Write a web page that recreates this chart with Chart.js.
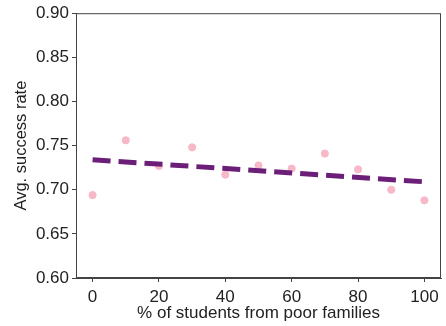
<!DOCTYPE html>
<html>
<head>
<meta charset="utf-8">
<script src="https://cdn.jsdelivr.net/npm/chart.js@4.4.0/dist/chart.umd.min.js"></script>
<style>
html,body{margin:0;padding:0;background:#fff;}
#wrap{width:446px;height:326px;}
</style>
</head>
<body>
<div id="wrap"><canvas id="c" width="446" height="326"></canvas></div>
<script>
const pctPoor = [0, 10, 20, 30, 40, 50, 60, 70, 80, 90, 100];
const successRate = [0.694, 0.756, 0.727, 0.748, 0.717, 0.7275, 0.724, 0.741, 0.723, 0.700, 0.688];
const trendX = [0, 100];
const trendY = [0.734, 0.709];
const xTicks = [0, 20, 40, 60, 80, 100];
const yTicks = [0.60, 0.65, 0.70, 0.75, 0.80, 0.85, 0.90];

const FONT = 'Liberation Sans, Arial, Helvetica, sans-serif';

const frame = {
  id: 'frame',
  afterDatasetsDraw(chart) {
    const a = chart.chartArea, ctx = chart.ctx;
    ctx.save();
    ctx.strokeStyle = '#444';
    ctx.lineWidth = 1;
    ctx.strokeRect(a.left + 0.5, a.top + 0.5, a.right - a.left - 1, a.bottom - a.top - 1);
    ctx.restore();
  }
};

new Chart(document.getElementById('c'), {
  type: 'scatter',
  data: {
    datasets: [
      {
        data: pctPoor.map((x, i) => ({x, y: successRate[i]})),
        backgroundColor: '#f7b8c8',
        borderColor: '#f7b8c8',
        pointRadius: 3.6,
        order: 2
      },
      {
        type: 'line',
        data: trendX.map((x, i) => ({x, y: trendY[i]})),
        borderColor: '#6c1f78',
        borderWidth: 5,
        borderDash: [18, 8],
        pointRadius: 0,
        fill: false,
        order: 1
      }
    ]
  },
  options: {
    responsive: false,
    animation: false,
    layout: {padding: {left: 0, top: 12, right: 3, bottom: 2}},
    plugins: {legend: {display: false}, tooltip: {enabled: false}},
    scales: {
      x: {
        type: 'linear',
        min: -5, max: 105,
        afterBuildTicks: s => { s.ticks = xTicks.map(v => ({value: v})); },
        afterFit: s => { s.height = 46; },
        grid: {display: true, drawOnChartArea: false, drawTicks: true, tickLength: 4, tickColor: '#444'},
        border: {display: true, color: '#444'},
        ticks: {color: '#222', font: {family: FONT, size: 17}, padding: 5, maxRotation: 0},
        title: {display: true, text: '% of students from poor families', color: '#222', font: {family: FONT, size: 17}, padding: {top: 0, bottom: 0}}
      },
      y: {
        min: 0.60, max: 0.90,
        afterBuildTicks: s => { s.ticks = yTicks.map(v => ({value: v})); },
        afterFit: s => { s.width = 76; },
        grid: {display: true, drawOnChartArea: false, drawTicks: true, tickLength: 4, tickColor: '#444'},
        border: {display: true, color: '#444'},
        ticks: {color: '#222', font: {family: FONT, size: 17}, padding: 3, callback: v => v.toFixed(2)},
        title: {display: true, text: 'Avg. success rate', color: '#222', font: {family: FONT, size: 16.5}, padding: {top: 12, bottom: 0}}
      }
    }
  },
  plugins: [frame]
});
</script>
</body>
</html>
